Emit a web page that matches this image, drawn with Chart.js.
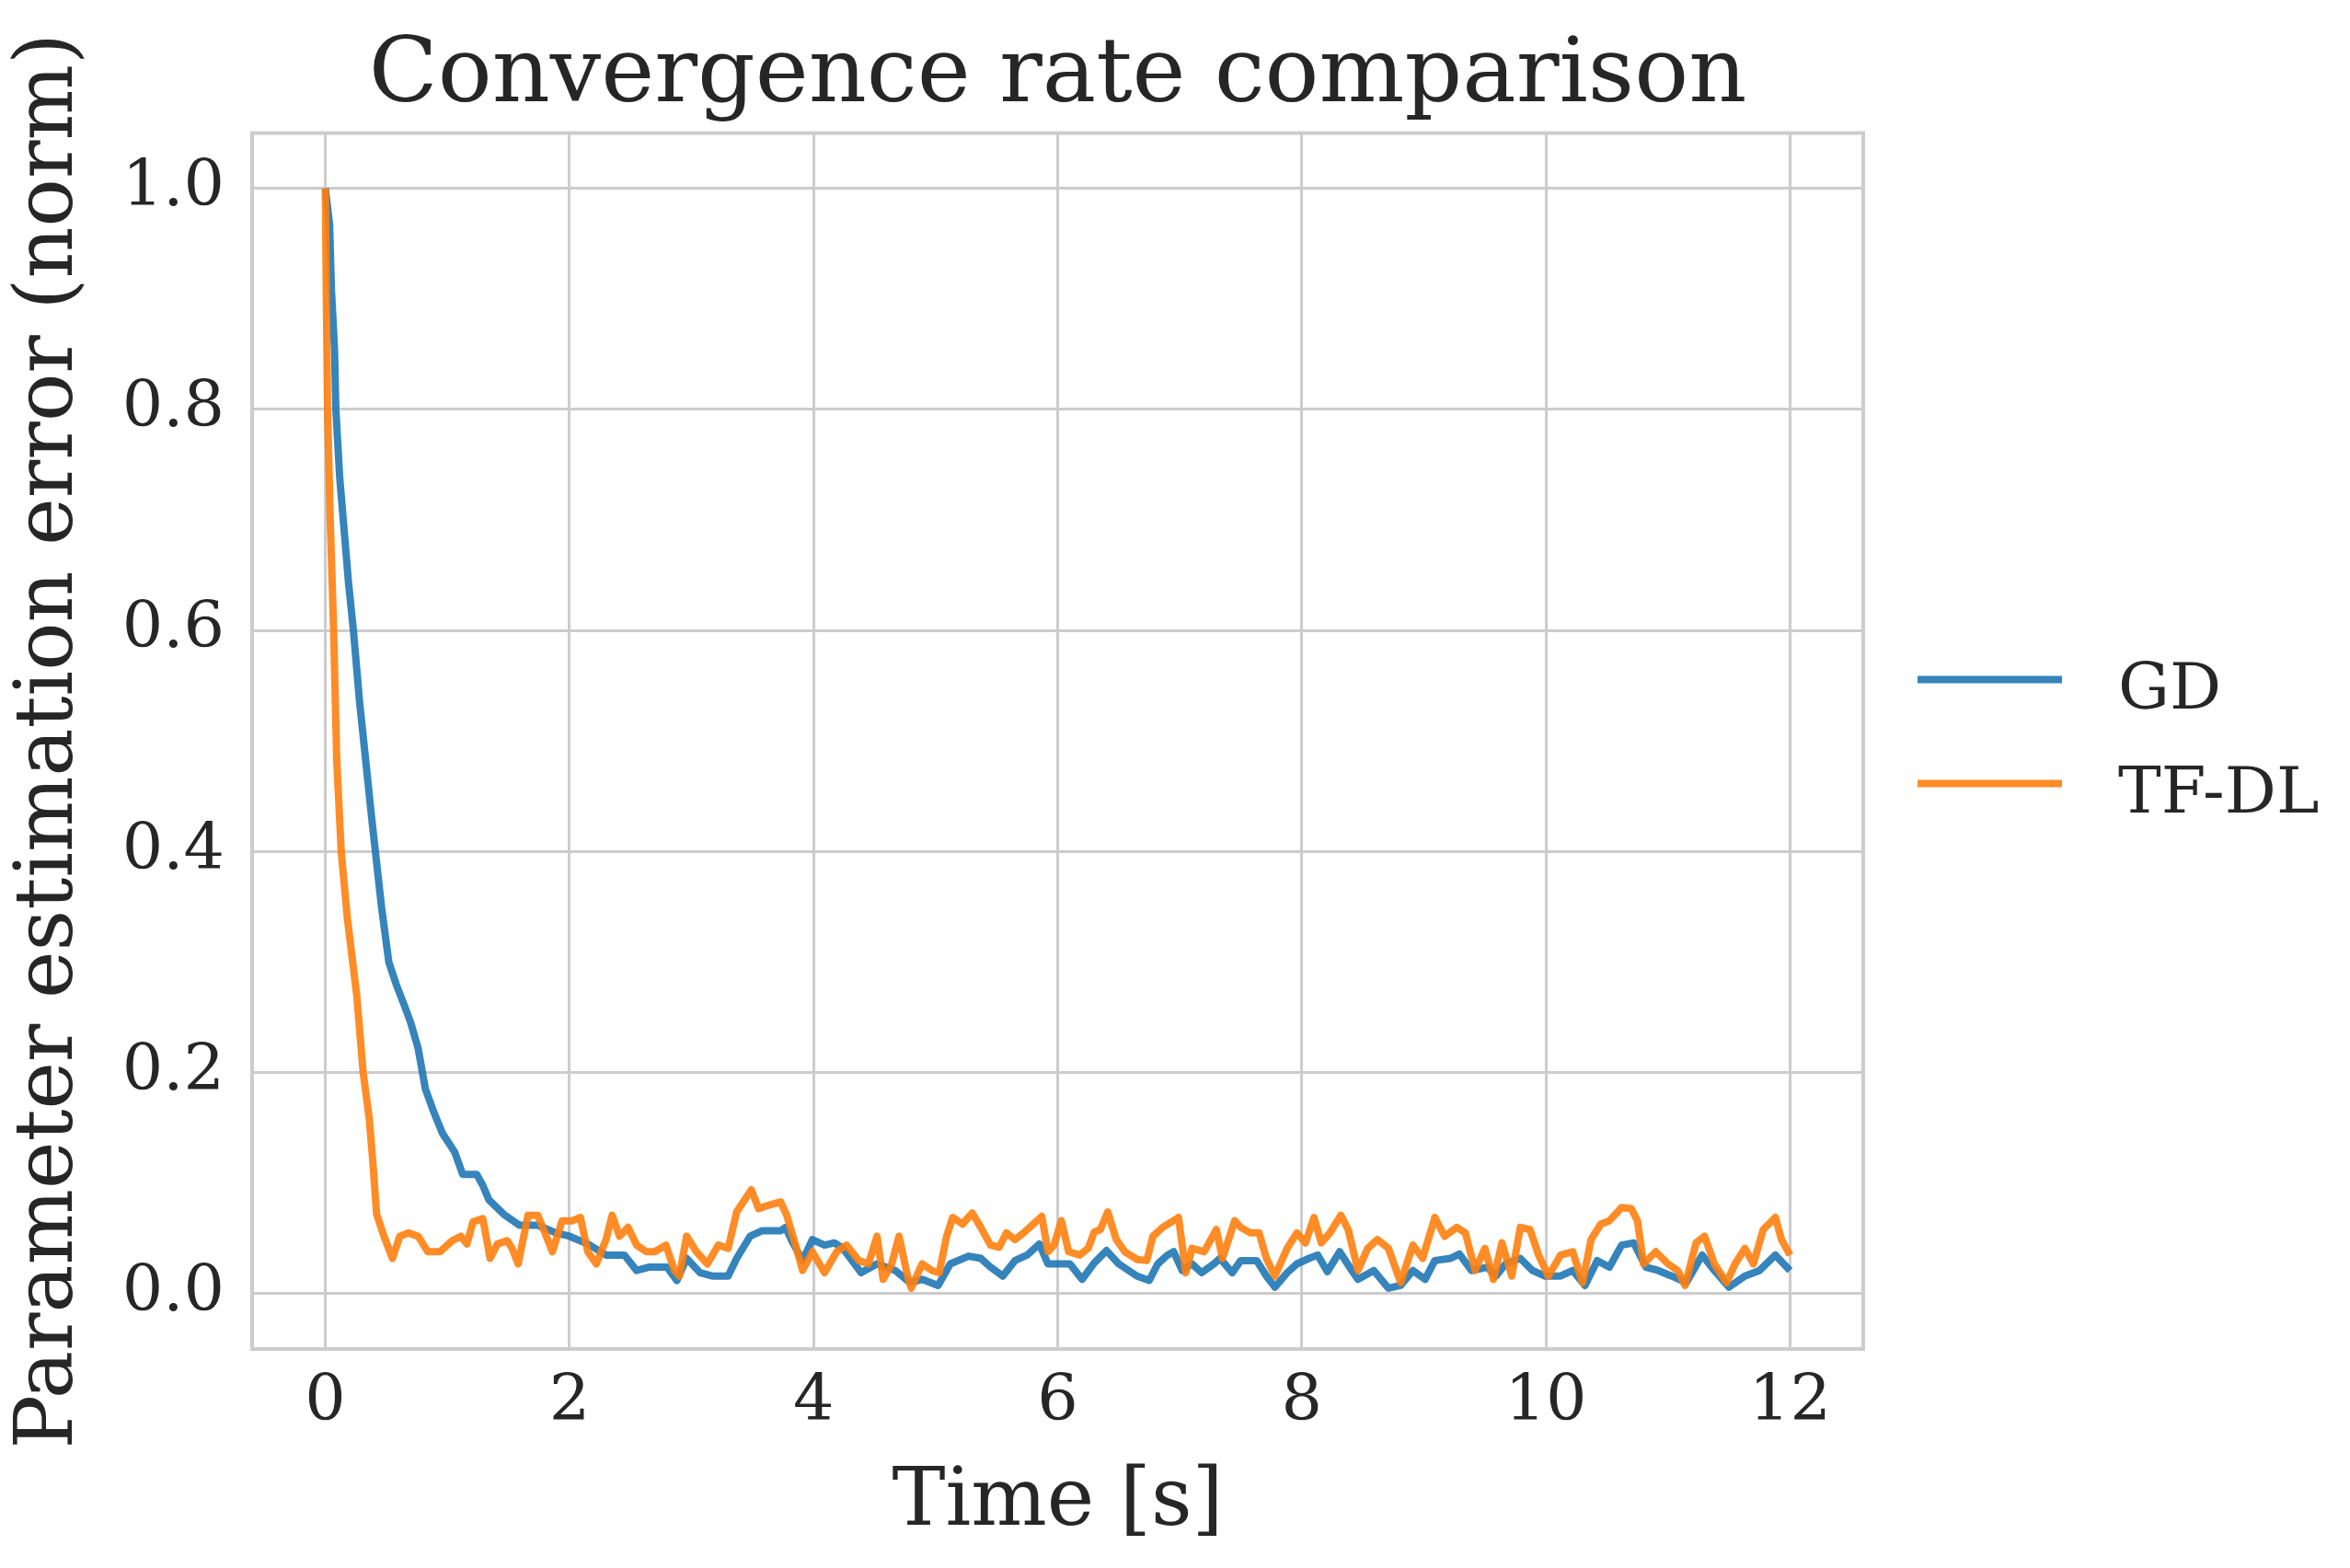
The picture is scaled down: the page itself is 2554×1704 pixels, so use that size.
<!DOCTYPE html>
<html>
<head>
<meta charset="utf-8">
<script src="https://cdn.jsdelivr.net/npm/chart.js@4/dist/chart.umd.min.js"></script>
<style>
  html, body { margin: 0; padding: 0; background: #ffffff; }
  canvas { display: block; }
</style>
</head>
<body>
<canvas id="c" width="2554" height="1704" style="width:2554px;height:1704px"></canvas>
<script>
// ---------------- DATA ----------------
const chartTitle = "Convergence rate comparison";
const xAxisTitle = "Time [s]";
const yAxisTitle = "Parameter estimation error (norm)";
const seriesNames = ["GD", "TF-DL"];

const xTickValues = [0, 2, 4, 6, 8, 10, 12];
const yTickValues = [0.0, 0.2, 0.4, 0.6, 0.8, 1.0];

const gdTime = [0, 0.035, 0.05, 0.075, 0.086, 0.118, 0.15, 0.19, 0.23, 0.28, 0.33, 0.38, 0.41, 0.46, 0.52, 0.58, 0.65, 0.70, 0.76, 0.82, 0.886, 0.96, 1.06, 1.125, 1.24, 1.29, 1.34, 1.46, 1.59, 1.74, 1.89, 2.0,
  2.15, 2.3, 2.45, 2.55, 2.65, 2.8, 2.88, 2.96, 3.07, 3.17, 3.3, 3.37, 3.48, 3.58, 3.73, 3.77, 3.83, 3.91, 3.99, 4.09, 4.17, 4.24,
  4.39, 4.52, 4.67, 4.79, 4.89, 5.02, 5.12, 5.27, 5.37, 5.45, 5.55, 5.65, 5.75, 5.85, 5.92, 6.03, 6.1, 6.2, 6.3, 6.4, 6.5, 6.65, 6.75, 6.82, 6.9, 6.95,
  7.02, 7.1, 7.18, 7.28, 7.33, 7.43, 7.5, 7.63, 7.71, 7.78, 7.88, 7.96, 8.06, 8.13, 8.21, 8.31, 8.41, 8.46, 8.59, 8.71, 8.81, 8.91, 9.01, 9.09, 9.22, 9.29,
  9.39, 9.52, 9.59, 9.67, 9.79, 9.89, 9.99, 10.12, 10.22, 10.32, 10.42, 10.52, 10.62, 10.72, 10.82, 10.92, 11.03, 11.15, 11.28, 11.38, 11.5, 11.63, 11.75, 11.88, 12.0];
const gdError = [1.0, 0.967, 0.908, 0.855, 0.80, 0.738, 0.696, 0.643, 0.60, 0.536, 0.483, 0.43, 0.40, 0.35, 0.30, 0.28, 0.26, 0.245, 0.222, 0.185, 0.165, 0.145, 0.128, 0.108, 0.108, 0.098, 0.085, 0.072, 0.062, 0.062, 0.055, 0.052,
  0.045, 0.035, 0.035, 0.021, 0.024, 0.024, 0.012, 0.032, 0.019, 0.016, 0.016, 0.032, 0.052, 0.057, 0.057, 0.06, 0.046, 0.03, 0.049, 0.044, 0.046, 0.041,
  0.019, 0.027, 0.021, 0.01, 0.013, 0.0075, 0.027, 0.034, 0.032, 0.024, 0.016, 0.03, 0.035, 0.045, 0.027, 0.027, 0.027, 0.013, 0.028, 0.039, 0.027, 0.016, 0.012, 0.027, 0.035, 0.038,
  0.021, 0.027, 0.019, 0.027, 0.032, 0.019, 0.03, 0.03, 0.016, 0.006, 0.019, 0.027, 0.032, 0.035, 0.02, 0.038, 0.021, 0.013, 0.021, 0.005, 0.0075, 0.021, 0.013, 0.03, 0.032, 0.036,
  0.021, 0.024, 0.016, 0.027, 0.032, 0.021, 0.016, 0.016, 0.021, 0.0075, 0.03, 0.024, 0.044, 0.046, 0.024, 0.021, 0.016, 0.01, 0.035, 0.021, 0.006, 0.016, 0.021, 0.035, 0.021];

const tfTime = [0, 0.008, 0.018, 0.04, 0.068, 0.093, 0.13, 0.18, 0.257, 0.31, 0.36, 0.39, 0.42, 0.48, 0.55, 0.61, 0.68, 0.76, 0.84, 0.94, 1.04, 1.11, 1.16, 1.21, 1.29, 1.35, 1.41, 1.49, 1.53, 1.58, 1.66, 1.74, 1.8, 1.86, 1.94,
  2.02, 2.09, 2.15, 2.22, 2.3, 2.35, 2.41, 2.48, 2.55, 2.63, 2.7, 2.79, 2.86, 2.9, 2.96, 3.04, 3.13, 3.22, 3.3, 3.37, 3.49, 3.55, 3.63, 3.73, 3.78, 3.86, 3.91, 3.99,
  4.09, 4.19, 4.27, 4.37, 4.45, 4.52, 4.57, 4.64, 4.7, 4.77, 4.8, 4.89, 4.97, 5.03, 5.09, 5.14, 5.22, 5.3, 5.37, 5.45, 5.52, 5.58, 5.65, 5.72, 5.8, 5.87, 5.92, 5.97,
  6.03, 6.09, 6.18, 6.25, 6.3, 6.35, 6.41, 6.48, 6.55, 6.65, 6.73, 6.78, 6.86, 6.99, 7.05, 7.1, 7.2, 7.3, 7.35, 7.45, 7.5, 7.58, 7.65, 7.71, 7.78, 7.88, 7.96,
  8.03, 8.1, 8.16, 8.23, 8.32, 8.38, 8.46, 8.54, 8.62, 8.71, 8.81, 8.91, 8.99, 9.09, 9.17, 9.27, 9.34, 9.42, 9.5, 9.57, 9.64, 9.72, 9.79, 9.87, 9.94,
  10.02, 10.12, 10.22, 10.3, 10.37, 10.45, 10.52, 10.62, 10.7, 10.75, 10.8, 10.9, 11.0, 11.08, 11.14, 11.23, 11.3, 11.38, 11.48, 11.55, 11.63, 11.7, 11.78, 11.88, 11.93, 12.0];
const tfError = [1.0, 0.90, 0.80, 0.70, 0.60, 0.483, 0.40, 0.34, 0.27, 0.20, 0.158, 0.118, 0.072, 0.052, 0.032, 0.052, 0.055, 0.052, 0.038, 0.038, 0.048, 0.052, 0.045, 0.065, 0.068, 0.032, 0.045, 0.048, 0.041, 0.027, 0.071, 0.071, 0.055, 0.038, 0.066,
  0.066, 0.069, 0.038, 0.027, 0.049, 0.071, 0.052, 0.06, 0.044, 0.038, 0.038, 0.044, 0.021, 0.016, 0.052, 0.038, 0.027, 0.044, 0.041, 0.074, 0.094, 0.077, 0.08, 0.083, 0.071, 0.041, 0.021, 0.038,
  0.019, 0.038, 0.044, 0.03, 0.027, 0.052, 0.013, 0.027, 0.052, 0.016, 0.005, 0.027, 0.021, 0.019, 0.052, 0.069, 0.063, 0.073, 0.06, 0.044, 0.042, 0.055, 0.049, 0.055, 0.063, 0.07, 0.038, 0.044,
  0.066, 0.038, 0.035, 0.041, 0.056, 0.058, 0.074, 0.049, 0.038, 0.031, 0.03, 0.052, 0.06, 0.069, 0.019, 0.041, 0.038, 0.058, 0.032, 0.066, 0.06, 0.055, 0.055, 0.032, 0.016, 0.041, 0.055,
  0.046, 0.069, 0.046, 0.055, 0.071, 0.058, 0.021, 0.041, 0.049, 0.041, 0.01, 0.044, 0.032, 0.069, 0.052, 0.06, 0.055, 0.021, 0.041, 0.013, 0.046, 0.016, 0.06, 0.058, 0.035,
  0.016, 0.035, 0.038, 0.01, 0.049, 0.063, 0.066, 0.078, 0.077, 0.066, 0.027, 0.038, 0.027, 0.021, 0.0075, 0.046, 0.052, 0.027, 0.01, 0.027, 0.041, 0.027, 0.058, 0.069, 0.049, 0.035];

// ---------------- STYLE ----------------
const FONT = "'DejaVu Serif', 'Liberation Serif', serif";
const TEXT = "#262626";
const GRID = "#cccccc";
const COLORS = ["rgba(31,119,180,0.9)", "rgba(255,127,14,0.9)"];

function toPoints(xs, ys) { return xs.map((x, i) => ({ x: x, y: ys[i] })); }

const framePlugin = {
  id: "frame",
  beforeDatasetsDraw(chart) {
    const a = chart.chartArea, ctx = chart.ctx;
    ctx.save();
    ctx.strokeStyle = GRID;
    ctx.lineWidth = 4;
    ctx.strokeRect(a.left, a.top, a.right - a.left, a.bottom - a.top);
    ctx.restore();
  }
};

const legendPlugin = {
  id: "sideLegend",
  afterDraw(chart) {
    const a = chart.chartArea, ctx = chart.ctx;
    ctx.save();
    chart.data.datasets.forEach((ds, i) => {
      const y = a.top + 594 + i * 113;
      ctx.strokeStyle = ds.borderColor;
      ctx.lineWidth = 8;
      ctx.lineCap = "butt";
      ctx.beginPath();
      ctx.moveTo(a.right + 59, y);
      ctx.lineTo(a.right + 216, y);
      ctx.stroke();
      ctx.fillStyle = TEXT;
      ctx.font = "70px " + FONT;
      ctx.textBaseline = "alphabetic";
      ctx.textAlign = "left";
      ctx.fillText(ds.label, a.right + 277, y + 31);
    });
    ctx.restore();
  }
};

new Chart(document.getElementById("c"), {
  type: "line",
  data: {
    datasets: [
      { label: seriesNames[0], data: toPoints(gdTime, gdError), borderColor: COLORS[0], backgroundColor: COLORS[0], borderWidth: 8, pointRadius: 0, tension: 0, order: 1, borderJoinStyle: "round" },
      { label: seriesNames[1], data: toPoints(tfTime, tfError), borderColor: COLORS[1], backgroundColor: COLORS[1], borderWidth: 8, pointRadius: 0, tension: 0, order: 0, borderJoinStyle: "round" }
    ]
  },
  options: {
    responsive: false,
    devicePixelRatio: 1,
    animation: false,
    events: [],
    layout: { padding: { left: 0, right: 529, top: 0, bottom: 0 } },
    plugins: {
      legend: { display: false },
      tooltip: { enabled: false },
      title: {
        display: true,
        text: chartTitle,
        fullSize: false,
        color: TEXT,
        font: { family: FONT, size: 98, weight: "normal" },
        padding: { top: 26, bottom: 1 }
      }
    },
    scales: {
      x: {
        type: "linear",
        min: -0.6,
        max: 12.6,
        afterBuildTicks: (s) => { s.ticks = xTickValues.map(v => ({ value: v })); },
        afterFit: (s) => { s.height = 238; },
        grid: { color: GRID, lineWidth: 3, drawTicks: false },
        border: { display: false },
        ticks: { color: TEXT, font: { family: FONT, size: 70 }, padding: 17, maxRotation: 0, callback: (v) => String(v) },
        title: { display: true, text: xAxisTitle, color: TEXT, font: { family: FONT, size: 87 }, padding: { top: 0, bottom: 17 } }
      },
      y: {
        type: "linear",
        min: -0.05,
        max: 1.05,
        afterBuildTicks: (s) => { s.ticks = yTickValues.map(v => ({ value: v })); },
        afterFit: (s) => { s.width = 274; },
        grid: { color: GRID, lineWidth: 3, drawTicks: false },
        border: { display: false },
        ticks: { color: TEXT, font: { family: FONT, size: 70 }, padding: 30, callback: (v) => Number(v).toFixed(1) },
        title: { display: true, text: yAxisTitle, color: TEXT, font: { family: FONT, size: 87 }, padding: { top: 3, bottom: 0 } }
      }
    }
  },
  plugins: [framePlugin, legendPlugin]
});
</script>
</body>
</html>
